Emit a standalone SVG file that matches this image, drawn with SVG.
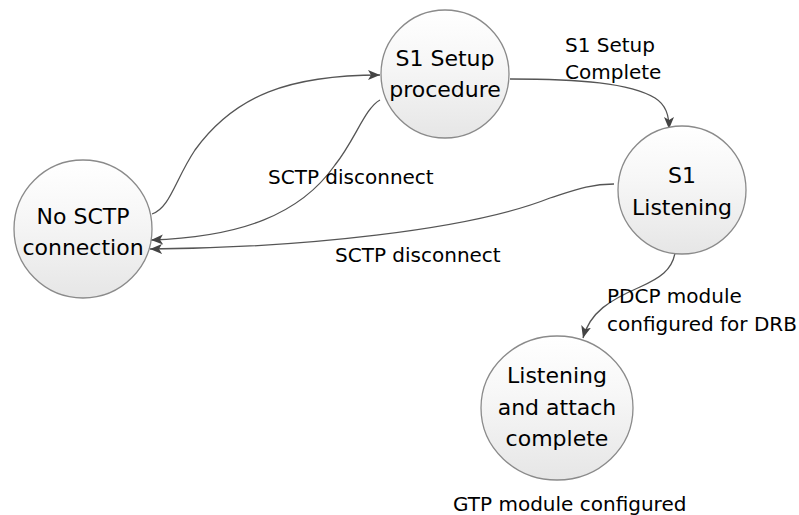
<svg xmlns="http://www.w3.org/2000/svg" width="799" height="515" viewBox="0 0 799 515">
<style>
.node{stroke:#8a8a8a;stroke-width:1.3;fill:url(#g)}
.nt{font-family:"DejaVu Sans",sans-serif;font-size:22px;fill:#000;text-anchor:middle}
.lb{font-family:"DejaVu Sans",sans-serif;font-size:20px;fill:#000}
.edge{fill:none;stroke:#555;stroke-width:1.3;marker-end:url(#a)}
</style>
<defs>
<linearGradient id="g" x1="0" y1="0" x2="0" y2="1">
<stop offset="0" stop-color="#ffffff"/>
<stop offset="0.4" stop-color="#f7f7f7"/>
<stop offset="1" stop-color="#e6e6e6"/>
</linearGradient>
<marker id="a" markerUnits="userSpaceOnUse" markerWidth="14" markerHeight="12" refX="12" refY="5" orient="auto" viewBox="0 0 14 10">
<path d="M0,0 L12,5 L0,10 L3,5 z" fill="#444"/>
</marker>
</defs>
<rect width="799" height="515" fill="#fff"/>
<g id="connectors">
<path class="edge" d="M152,214 C170,208 175,180 195,150 C235,95 290,75 380,75"/>
<path class="edge" d="M380,100 C365,108 355,140 335,165 C300,215 240,237 151,240"/>
<path class="edge" d="M510,79 C580,79 630,83 655,98 C666,105 669,115 669,129"/>
<path class="edge" d="M614,184 C590,184 575,190 550,198 C470,230 300,248 150,249"/>
<path class="edge" d="M675,253 C672,270 660,278 640,287 C610,300 590,312 583,338"/>
</g>
<g id="n-nosctp">
<circle class="node" cx="83" cy="229" r="69"/>
<text class="nt" x="83" y="224">No SCTP</text>
<text class="nt" x="83" y="255">connection</text>
</g>
<g id="n-setup">
<circle class="node" cx="445" cy="74" r="64"/>
<text class="nt" x="445" y="66">S1 Setup</text>
<text class="nt" x="445" y="97">procedure</text>
</g>
<g id="n-listening">
<circle class="node" cx="682" cy="190" r="64"/>
<text class="nt" x="682" y="183">S1</text>
<text class="nt" x="682" y="215">Listening</text>
</g>
<g id="n-attach">
<ellipse class="node" cx="557" cy="408" rx="76" ry="72"/>
<text class="nt" x="557" y="383">Listening</text>
<text class="nt" x="557" y="415">and attach</text>
<text class="nt" x="557" y="446">complete</text>
</g>
<g id="labels">
<text class="lb" x="565" y="52">S1 Setup</text>
<text class="lb" x="565" y="79">Complete</text>
<text class="lb" x="268" y="184">SCTP disconnect</text>
<text class="lb" x="335" y="262">SCTP disconnect</text>
<text class="lb" x="607" y="303">PDCP module</text>
<text class="lb" x="607" y="331">configured for DRB</text>
<text class="lb" x="453" y="511">GTP module configured</text>
</g>
</svg>
